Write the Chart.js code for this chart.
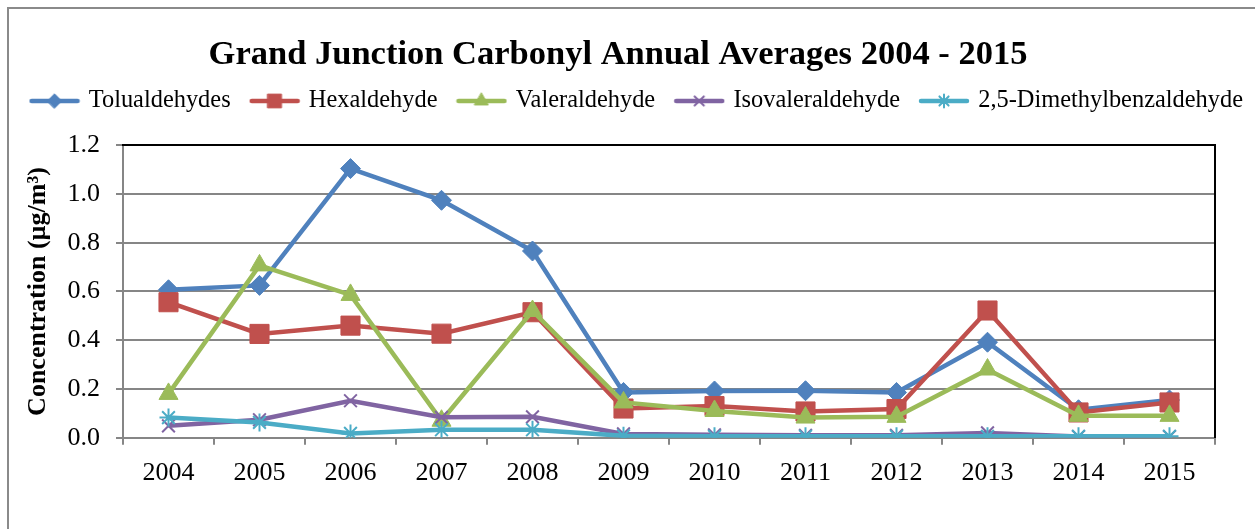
<!DOCTYPE html>
<html>
<head>
<meta charset="utf-8">
<script src="https://cdn.jsdelivr.net/npm/chart.js@4.4.1/dist/chart.umd.min.js"></script>
<style>
  html, body { margin: 0; padding: 0; background: #fff; overflow: hidden; width: 1255px; height: 529px; }
  #frame { position: absolute; left: 7px; top: 7px; width: 1400px; height: 700px;
           border-left: 2px solid #8a8a8a; border-top: 2px solid #8a8a8a; }
  /* canvas hangs a little past both sides of the window so title and legend sit like the original */
  #wrap { position: absolute; left: -29px; top: 0; width: 1294px; height: 529px; }
</style>
</head>
<body>
<div id="frame"></div>
<div id="wrap"><canvas id="graph" width="1294" height="529"></canvas></div>
<script>
const years = ['2004', '2005', '2006', '2007', '2008', '2009', '2010', '2011', '2012', '2013', '2014', '2015'];
const tolualdehydes = [0.607, 0.625, 1.104, 0.974, 0.766, 0.186, 0.192, 0.193, 0.186, 0.392, 0.115, 0.155];
const hexaldehyde = [0.556, 0.426, 0.46, 0.427, 0.515, 0.12, 0.13, 0.108, 0.118, 0.522, 0.104, 0.145];
const valeraldehyde = [0.18, 0.707, 0.586, 0.07, 0.52, 0.145, 0.11, 0.083, 0.086, 0.28, 0.09, 0.09];
const isovaleraldehyde = [0.049, 0.074, 0.152, 0.084, 0.086, 0.016, 0.012, 0.01, 0.01, 0.02, 0.005, 0.005];
const dimethylbenzaldehyde = [0.083, 0.063, 0.018, 0.033, 0.033, 0.008, 0.006, 0.006, 0.006, 0.006, 0.006, 0.006];
const yTicks = [0, 0.2, 0.4, 0.6, 0.8, 1.0, 1.2];

const fontFamily = '"Liberation Serif", "Times New Roman", serif';
const gridGray = '#868686';

const series = [
    { label: 'Tolualdehydes', data: tolualdehydes, color: '#4F81BD', style: 'rectRot', radius: 10, bw: 1 },
    { label: 'Hexaldehyde', data: hexaldehyde, color: '#C0504D', style: 'rect', radius: 13.5, bw: 1 },
    { label: 'Valeraldehyde', data: valeraldehyde, color: '#9BBB59', style: 'triangle', radius: 11, bw: 1 },
    { label: 'Isovaleraldehyde', data: isovaleraldehyde, color: '#8064A2', style: 'crossRot', radius: 9, bw: 2 },
    { label: '2,5-Dimethylbenzaldehyde', data: dimethylbenzaldehyde, color: '#4BACC6', style: 'star', radius: 9, bw: 2 }
];

// small line + marker picture for the legend
function makeIcon(s) {
    const c = document.createElement('canvas');
    c.width = 52;
    c.height = 22;
    const ctx = c.getContext('2d');
    ctx.strokeStyle = s.color;
    ctx.fillStyle = s.color;
    ctx.lineWidth = 4.5;
    ctx.lineCap = 'round';
    ctx.beginPath();
    ctx.moveTo(3, 11);
    ctx.lineTo(49, 11);
    ctx.stroke();
    ctx.lineWidth = s.bw;
    Chart.helpers.drawPoint(ctx, { pointStyle: s.style, radius: s.radius * 0.72, rotation: 0, borderWidth: s.bw }, 26, 11);
    return c;
}

const icons = series.map(makeIcon);

const datasets = series.map((s, i) => ({
    label: s.label,
    data: s.data,
    borderColor: s.color,
    backgroundColor: s.color,
    borderWidth: 4.5,
    pointStyle: s.style,
    pointRadius: s.radius,
    pointHoverRadius: s.radius,
    pointBackgroundColor: s.color,
    pointBorderColor: s.color,
    pointBorderWidth: s.bw,
    tension: 0,
    order: series.length - i
}));

const config = {
    type: 'line',
    data: { labels: years, datasets: datasets },
    options: {
        responsive: false,
        animation: false,
        devicePixelRatio: 1,
        layout: { padding: { left: 0, right: 0, top: 0, bottom: 27 } },
        plugins: {
            title: {
                display: true,
                text: 'Grand Junction Carbonyl Annual Averages 2004 - 2015',
                color: '#000',
                font: { family: fontFamily, size: 34.5, weight: 'bold', lineHeight: 0.66 },
                padding: { top: 44, bottom: 0 }
            },
            legend: {
                position: 'top',
                align: 'end',
                labels: {
                    color: '#000',
                    font: { family: fontFamily, size: 24.4 },
                    usePointStyle: true,
                    pointStyleWidth: 44,
                    padding: 22,
                    generateLabels: (chart) => series.map((s, i) => ({
                        text: s.label,
                        datasetIndex: i,
                        pointStyle: icons[i],
                        fillStyle: s.color,
                        strokeStyle: s.color,
                        lineWidth: 0,
                        fontColor: '#000',
                        hidden: !chart.isDatasetVisible(i)
                    }))
                }
            },
            tooltip: { enabled: false }
        },
        scales: {
            x: {
                type: 'category',
                position: 'bottom',
                offset: true,
                grid: { display: true, drawOnChartArea: false, drawTicks: true, tickLength: 7, color: gridGray, lineWidth: 2, offset: true },
                border: { display: true, color: gridGray, width: 2 },
                ticks: { color: '#000', font: { family: fontFamily, size: 26 }, padding: 13, maxRotation: 0, autoSkip: false }
            },
            y: {
                type: 'linear',
                position: 'left',
                min: yTicks[0],
                max: yTicks[yTicks.length - 1],
                afterBuildTicks: (scale) => { scale.ticks = yTicks.map(v => ({ value: v })); },
                grid: { color: gridGray, lineWidth: 2, drawTicks: true, tickLength: 7 },
                border: { display: true, color: gridGray, width: 2 },
                ticks: {
                    color: '#000',
                    font: { family: fontFamily, size: 26 },
                    padding: 16,
                    callback: (v) => Number(v).toFixed(1)
                },
                title: {
                    display: true,
                    text: 'Concentration (µg/m³)',
                    color: '#000',
                    font: { family: fontFamily, size: 26, weight: 'bold' },
                    padding: { top: 52, bottom: 10 }
                },
                afterFit: (scale) => { scale.width = 152; }
            },
            x2: {
                type: 'category',
                position: 'top',
                labels: years,
                grid: { display: false, drawTicks: false },
                border: { display: true, color: '#000', width: 2 },
                ticks: { display: false },
                afterFit: (scale) => { scale.height = 22; }
            },
            y2: {
                type: 'linear',
                position: 'right',
                min: yTicks[0],
                max: yTicks[yTicks.length - 1],
                grid: { display: false, drawTicks: false },
                border: { display: true, color: '#000', width: 2 },
                ticks: { display: false },
                afterFit: (scale) => { scale.width = 50; }
            }
        }
    }
};

const chart = new Chart(document.getElementById('graph'), config);
</script>
</body>
</html>
